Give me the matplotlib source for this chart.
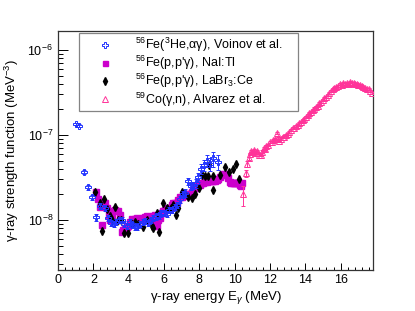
import numpy as np
import matplotlib
matplotlib.use("Agg")
import matplotlib.pyplot as plt
from matplotlib.lines import Line2D
from matplotlib.ticker import MultipleLocator, LogLocator, NullFormatter

plt.rcParams['font.family'] = ['Liberation Sans', 'DejaVu Sans']
plt.rcParams['mathtext.fontset'] = 'custom'
plt.rcParams['mathtext.rm'] = 'Liberation Sans'
plt.rcParams['mathtext.it'] = 'Liberation Sans:italic'
plt.rcParams['mathtext.bf'] = 'Liberation Sans:bold'

# 56Fe(3He,a g), Voinov et al.
voinov_e = [1.00, 1.20, 1.45, 1.70, 1.95, 2.15, 2.40, 2.65, 2.85, 3.00, 3.15, 3.30,
            3.45, 3.60, 3.75, 3.90, 4.05, 4.20, 4.35, 4.50, 4.65, 4.80, 4.95, 5.10,
            5.25, 5.40, 5.55, 5.70, 5.85, 6.00, 6.15, 6.30, 6.45, 6.60, 6.75, 6.90,
            7.05, 7.20, 7.37, 7.52, 7.66, 7.81, 7.90, 8.09, 8.26, 8.41, 8.60, 8.79, 9.04]
voinov_f = [1.35e-7, 1.28e-7, 3.7e-8, 2.42e-8, 1.85e-8, 1.08e-8, 1.45e-8, 1.4e-8,
            1.05e-8, 9.3e-9, 9.0e-9, 9.6e-9, 9.9e-9, 1.0e-8, 9.0e-9, 8.6e-9, 9.4e-9,
            8.8e-9, 8.4e-9, 8.2e-9, 8.9e-9, 9.4e-9, 9.8e-9, 9.2e-9, 1.0e-8, 1.05e-8,
            1.1e-8, 1.12e-8, 1.2e-8, 1.22e-8, 1.18e-8, 1.3e-8, 1.32e-8, 1.42e-8,
            1.5e-8, 1.75e-8, 2.0e-8, 2.1e-8, 2.85e-8, 2.5e-8, 2.55e-8, 2.7e-8, 3.2e-8,
            4.0e-8, 4.4e-8, 5.0e-8, 4.6e-8, 5.3e-8, 4.85e-8]
voinov_rel = [0.04, 0.04, 0.06, 0.07, 0.07, 0.10, 0.08, 0.08, 0.08, 0.08, 0.08, 0.08,
              0.08, 0.08, 0.08, 0.08, 0.08, 0.08, 0.08, 0.08, 0.08, 0.08, 0.08, 0.08,
              0.08, 0.08, 0.08, 0.08, 0.08, 0.08, 0.08, 0.08, 0.08, 0.08, 0.08, 0.09,
              0.09, 0.10, 0.10, 0.10, 0.10, 0.12, 0.12, 0.14, 0.15, 0.16, 0.18, 0.20, 0.20]

# 56Fe(p,p'g), NaI:Tl
nai_e = [2.13, 2.28, 2.38, 2.47, 2.57, 2.66, 2.79, 2.88, 2.94, 3.04, 3.13, 3.25, 3.41,
         3.50, 3.60, 3.70, 3.79, 3.88, 3.98, 4.08, 4.17, 4.27, 4.36, 4.45, 4.55, 4.64,
         4.74, 4.83, 4.93, 5.02, 5.12, 5.21, 5.30, 5.40, 5.49, 5.58, 5.68, 5.77, 5.87,
         5.96, 6.06, 6.15, 6.25, 6.34, 6.44, 6.53, 6.62, 6.72, 6.81, 6.90, 7.00, 7.09,
         7.19, 7.28, 7.38, 7.47, 7.56, 7.66, 7.75, 7.85, 7.94, 8.03, 8.13, 8.22, 8.32,
         8.41, 8.50, 8.60, 8.70, 8.79, 8.88, 8.98, 9.07, 9.16, 9.26, 9.35, 9.45, 9.54,
         9.64, 9.72, 9.80, 9.88, 9.96, 10.04, 10.12, 10.20, 10.28, 10.36, 10.44]
nai_f = [2.15e-8, 1.77e-8, 1.41e-8, 8.7e-9, 1.45e-8, 1.57e-8, 1.37e-8, 1.15e-8, 1.0e-8,
         1.05e-8, 1.29e-8, 1.3e-8, 1.29e-8, 1.15e-8, 7.2e-9, 7.6e-9, 8.0e-9, 8.2e-9,
         8.5e-9, 9.6e-9, 1.02e-8, 1.0e-8, 1.03e-8, 1.05e-8, 1.0e-8, 1.0e-8, 1.02e-8,
         1.05e-8, 1.08e-8, 1.1e-8, 1.05e-8, 1.02e-8, 1.0e-8, 1.1e-8, 1.15e-8, 8.6e-9,
         1.0e-8, 1.05e-8, 1.2e-8, 1.29e-8, 1.3e-8, 1.35e-8, 1.38e-8, 1.4e-8, 1.5e-8,
         1.6e-8, 1.6e-8, 1.6e-8, 1.7e-8, 1.85e-8, 1.88e-8, 1.9e-8, 1.95e-8, 2.0e-8,
         2.0e-8, 2.05e-8, 2.15e-8, 2.25e-8, 2.4e-8, 2.5e-8, 2.55e-8, 2.6e-8, 2.7e-8,
         2.75e-8, 2.78e-8, 2.8e-8, 2.85e-8, 2.85e-8, 2.85e-8, 2.85e-8, 2.9e-8, 2.95e-8,
         3.05e-8, 3.2e-8, 3.35e-8, 3.45e-8, 3.5e-8, 3.4e-8, 3.1e-8, 2.8e-8, 2.75e-8,
         2.75e-8, 2.75e-8, 2.75e-8, 2.72e-8, 2.7e-8, 2.6e-8, 2.5e-8, 2.7e-8]

# 56Fe(p,p'g), LaBr3:Ce
labr_e = [2.09, 2.38, 2.47, 2.62, 2.77, 2.92, 3.04, 3.23, 3.41, 3.55, 3.73, 3.98, 4.17,
          4.36, 4.55, 4.83, 5.02, 5.30, 5.40, 5.58, 5.73, 5.96, 6.15, 6.38, 6.53, 6.68,
          6.81, 7.00, 7.15, 7.34, 7.56, 7.75, 8.00, 8.17, 8.32, 8.50, 8.56, 8.79, 8.79,
          9.16, 9.45, 9.70, 9.92, 10.07, 10.26]
labr_f = [2.15e-8, 1.6e-8, 7.4e-9, 1.75e-8, 1.35e-8, 1.1e-8, 1.0e-8, 1.43e-8, 1.0e-8,
          1.0e-8, 7.0e-9, 7.0e-9, 9.0e-9, 9.4e-9, 9.0e-9, 8.2e-9, 1.0e-8, 8.4e-9, 8.0e-9,
          1.2e-8, 7.3e-9, 1.6e-8, 1.4e-8, 1.4e-8, 1.5e-8, 1.15e-8, 1.4e-8, 2.15e-8,
          2.1e-8, 1.85e-8, 1.8e-8, 2.0e-8, 2.4e-8, 3.4e-8, 3.3e-8, 3.3e-8, 4.5e-8,
          3.3e-8, 2.25e-8, 3.4e-8, 4.2e-8, 3.7e-8, 4.0e-8, 4.6e-8, 3.0e-8]
labr_rel = [0.06] * len(labr_e)

# 59Co(g,n), Alvarez et al.
alv_e = [10.49, 10.62, 10.71, 10.80, 10.88, 10.95, 11.02, 11.10, 11.18, 11.25, 11.32,
         11.40, 11.48, 11.56, 11.64, 11.72, 11.80, 11.90, 12.00, 12.10, 12.19, 12.28,
         12.38, 12.46, 12.53, 12.62, 12.72, 12.82, 12.91, 13.00, 13.10, 13.19, 13.28,
         13.38, 13.47, 13.56, 13.66, 13.76, 13.85, 13.95, 14.04, 14.14, 14.23, 14.32,
         14.42, 14.51, 14.60, 14.70, 14.79, 14.88, 14.98, 15.08, 15.17, 15.26, 15.36,
         15.46, 15.55, 15.64, 15.74, 15.84, 15.97, 16.06, 16.16, 16.26, 16.35, 16.45,
         16.54, 16.64, 16.73, 16.82, 16.92, 17.01, 17.10, 17.20, 17.29, 17.38, 17.48,
         17.58, 17.67, 17.78]
alv_f = [2.0e-8, 3.55e-8, 4.55e-8, 5.3e-8, 6.0e-8, 6.5e-8, 6.3e-8, 6.6e-8, 6.2e-8,
         6.5e-8, 6.2e-8, 5.9e-8, 5.8e-8, 6.4e-8, 7.0e-8, 6.8e-8, 7.4e-8, 7.7e-8, 8.3e-8,
         8.2e-8, 8.7e-8, 9.0e-8, 1.06e-7, 9.2e-8, 8.6e-8, 9.1e-8, 9.4e-8, 9.6e-8, 1.0e-7,
         1.03e-7, 1.09e-7, 1.14e-7, 1.2e-7, 1.22e-7, 1.28e-7, 1.3e-7, 1.37e-7, 1.42e-7,
         1.5e-7, 1.55e-7, 1.63e-7, 1.7e-7, 1.8e-7, 1.85e-7, 1.96e-7, 2.05e-7, 2.15e-7,
         2.22e-7, 2.36e-7, 2.45e-7, 2.58e-7, 2.7e-7, 2.82e-7, 2.95e-7, 3.1e-7, 3.3e-7,
         3.45e-7, 3.55e-7, 3.7e-7, 3.8e-7, 3.95e-7, 3.9e-7, 4.05e-7, 3.95e-7, 4.12e-7,
         4.0e-7, 4.22e-7, 4.05e-7, 4.1e-7, 3.95e-7, 4.0e-7, 3.9e-7, 3.88e-7, 3.75e-7,
         3.65e-7, 3.6e-7, 3.5e-7, 3.45e-7, 3.3e-7, 3.1e-7]
alv_rel = [0.27, 0.10, 0.08] + [0.03] * (len(alv_e) - 3)

labels = [r"$^{56}$Fe($^{3}$He,αγ), Voinov et al.",
          r"$^{56}$Fe(p,p'γ), NaI:Tl",
          r"$^{56}$Fe(p,p'γ), LaBr$_{3}$:Ce",
          r"$^{59}$Co(γ,n), Alvarez et al."]

blue = '#2233ff'
mag = '#cc00cc'
pink = '#ff3399'

fig = plt.figure(figsize=(4.15, 3.11), dpi=100)
ax = fig.add_axes([0.1398, 0.1318, 0.7597, 0.7695])

vf = np.array(voinov_f)
lf = np.array(labr_f)
af = np.array(alv_f)

ax.plot(nai_e, nai_f, ls='none', marker='s', ms=3.8, color=mag, zorder=2)
ax.errorbar(labr_e, labr_f, yerr=lf * np.array(labr_rel), fmt='d', ms=4.0,
            color='black', ecolor='black', elinewidth=0.7, capsize=0, zorder=3)
ax.errorbar(voinov_e, voinov_f, yerr=vf * np.array(voinov_rel), fmt='P', ms=4.0,
            mfc='none', mec=blue, mew=0.7, ecolor=blue,
            elinewidth=0.7, capsize=1.5, zorder=4)
ax.errorbar(alv_e, alv_f, yerr=af * np.array(alv_rel), fmt='^', ms=4.0,
            mfc='none', mec=pink, mew=0.7, ecolor=pink,
            elinewidth=0.7, capsize=1.5, zorder=5)

ax.set_yscale('log')
ax.set_xlim(0, 17.85)
ax.set_ylim(2.58e-9, 1.69e-6)

ax.xaxis.set_major_locator(MultipleLocator(2))
ax.xaxis.set_minor_locator(MultipleLocator(0.4))
ax.yaxis.set_major_locator(LogLocator(base=10, numticks=10))
ax.yaxis.set_minor_locator(LogLocator(base=10, subs=np.arange(2, 10), numticks=20))
ax.yaxis.set_minor_formatter(NullFormatter())

ax.tick_params(which='both', direction='in', top=False, right=False, labelsize=9,
               colors='black', width=0.7)
ax.tick_params(axis='x', which='major', length=5, pad=3)
ax.tick_params(axis='x', which='minor', length=2.5)
ax.tick_params(axis='y', which='major', length=7)
ax.tick_params(axis='y', which='minor', length=3.5)
for s in ax.spines.values():
    s.set_linewidth(0.9)
    s.set_color('#333333')

ax.set_xlabel("γ-ray energy E$_{γ}$ (MeV)", fontsize=9.5, labelpad=2)
ax.set_ylabel("γ-ray strength function (MeV$^{-3}$)", fontsize=9.5, labelpad=5)

# marker-only proxies for the legend
handles = [Line2D([], [], ls='none', marker='P', ms=4, mfc='none', mec=blue, mew=0.7),
           Line2D([], [], ls='none', marker='s', ms=3.6, color=mag),
           Line2D([], [], ls='none', marker='d', ms=4, color='black'),
           Line2D([], [], ls='none', marker='^', ms=4, mfc='none', mec=pink, mew=0.7)]
leg = ax.legend(handles, labels, loc='upper left',
                bbox_to_anchor=(0.0666, 0.99, 0.695, 0.0), mode='expand',
                fontsize=9, frameon=True, fancybox=False, borderpad=0.22,
                handlelength=3.7, handletextpad=0.55, labelspacing=0.0,
                borderaxespad=0, numpoints=1)
leg.get_frame().set_edgecolor('#666666')
leg.get_frame().set_linewidth(0.9)

fig.savefig("out.png", dpi=100)
